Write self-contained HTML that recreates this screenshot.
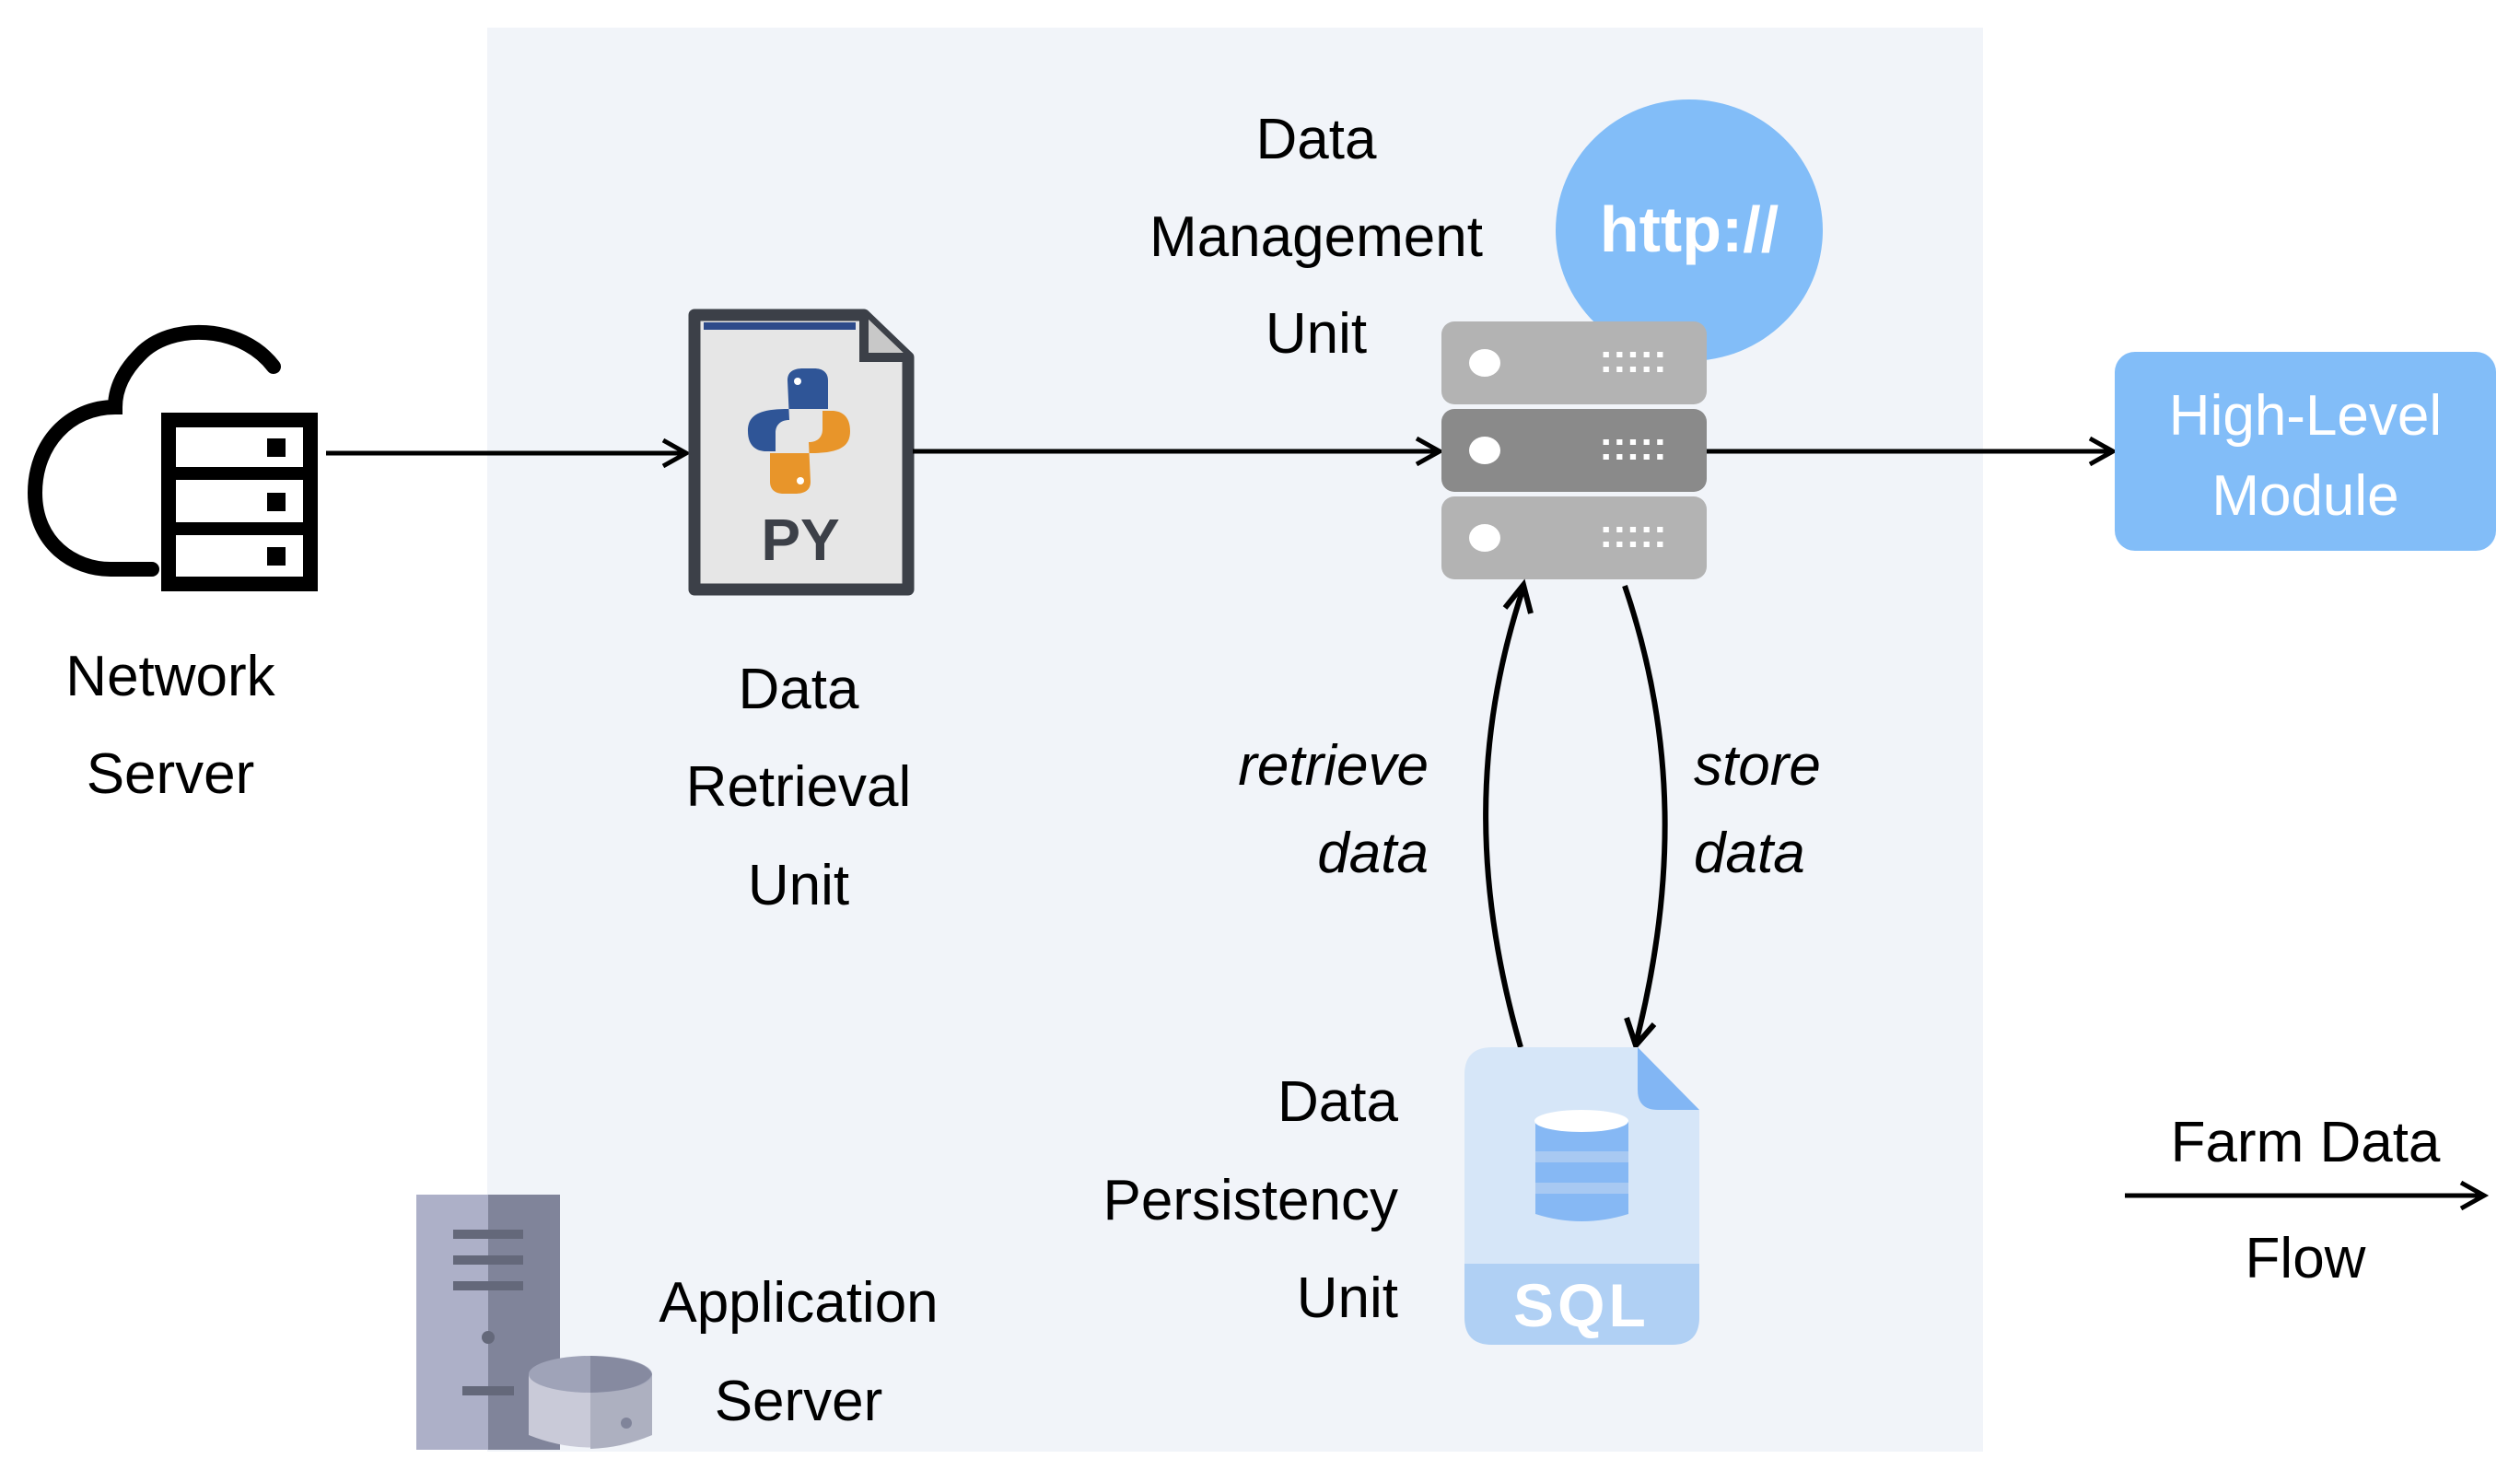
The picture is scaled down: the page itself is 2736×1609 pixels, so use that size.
<!DOCTYPE html>
<html><head><meta charset="utf-8"><style>
html,body{margin:0;padding:0;background:#fff}
svg{display:block}
text{font-family:"Liberation Sans",sans-serif;font-size:62px;fill:#000}
.it{font-style:italic}
</style></head><body>
<svg width="2736" height="1609" viewBox="0 0 2736 1609" xmlns="http://www.w3.org/2000/svg">
<rect x="529" y="30" width="1624" height="1546" fill="#f1f4f9"/>

<!-- cloud icon -->
<path d="M297 398 C262 352 185 350 152 385 C132 405 125 425 125 442 C75 442 38 482 38 535 C38 590 80 618 120 618 L165 618" fill="none" stroke="#000" stroke-width="16" stroke-linecap="round"/>
<rect x="183" y="456" width="154" height="178" fill="none" stroke="#000" stroke-width="16"/>
<line x1="183" y1="514" x2="337" y2="514" stroke="#000" stroke-width="14"/>
<line x1="183" y1="574" x2="337" y2="574" stroke="#000" stroke-width="14"/>
<rect x="290" y="476" width="20" height="20" fill="#000"/>
<rect x="290" y="535" width="20" height="20" fill="#000"/>
<rect x="290" y="594" width="20" height="20" fill="#000"/>
<text x="185" y="755" text-anchor="middle">Network</text>
<text x="185" y="861" text-anchor="middle">Server</text>

<!-- arrow 1 -->
<line x1="354" y1="492" x2="745" y2="492" stroke="#000" stroke-width="5"/>
<path d="M720 478 L745 492 L720 506" fill="none" stroke="#000" stroke-width="5"/>

<!-- PY file -->
<path d="M754 342 L938 342 L986 388 L986 640 L754 640 Z" fill="#e6e6e6" stroke="#3c4048" stroke-width="13" stroke-linejoin="round"/>
<rect x="764" y="350" width="165" height="8" fill="#2d4a8a"/>
<path d="M938 342 L938 388 L986 388" fill="#c8c8c8" stroke="#3c4048" stroke-width="10"/>
<path d="M855 413 C855 404 861 400 872 400 L884 400 C894 400 899 405 899 413 L899 444 L855 444 C822 444 812 452 812 468 C812 485 822 490 832 490 L842 490 L842 470 C842 461 848 456 857 456 Z" fill="#2f5597"/>
<path d="M880 523 C880 532 874 536 863 536 L851 536 C841 536 836 531 836 523 L836 492 L880 492 C913 492 923 484 923 468 C923 451 913 446 903 446 L893 446 L893 466 C893 475 887 480 878 480 Z" fill="#e8952a"/>
<circle cx="866" cy="414" r="4" fill="#fff"/><circle cx="869" cy="522" r="4" fill="#fff"/>
<text x="869" y="608" text-anchor="middle" style="font-weight:bold;font-size:64px;fill:#3c4048">PY</text>
<text x="867" y="769" text-anchor="middle">Data</text>
<text x="867" y="875" text-anchor="middle">Retrieval</text>
<text x="867" y="982" text-anchor="middle">Unit</text>

<!-- arrow 2 -->
<line x1="991" y1="490" x2="1563" y2="490" stroke="#000" stroke-width="5"/>
<path d="M1538 476 L1563 490 L1538 504" fill="none" stroke="#000" stroke-width="5"/>

<!-- http circle -->
<ellipse cx="1834" cy="250" rx="145" ry="142" fill="#82bdf8"/>
<text x="1834" y="273" text-anchor="middle" style="font-weight:bold;font-size:70px;fill:#fff">http://</text>

<!-- server stack -->
<rect x="1565" y="349" width="288" height="90" rx="14" fill="#b3b3b3"/>
<rect x="1565" y="444" width="288" height="90" rx="14" fill="#8a8a8a"/>
<rect x="1565" y="539" width="288" height="90" rx="14" fill="#b3b3b3"/>
<g fill="#fff">
<ellipse cx="1612" cy="394" rx="17" ry="15"/><ellipse cx="1612" cy="489" rx="17" ry="15"/><ellipse cx="1612" cy="584" rx="17" ry="15"/>
<text x="1773" y="404" text-anchor="middle" style="font-size:44px;fill:#fff;font-weight:bold">:::::</text>
<text x="1773" y="499" text-anchor="middle" style="font-size:44px;fill:#fff;font-weight:bold">:::::</text>
<text x="1773" y="594" text-anchor="middle" style="font-size:44px;fill:#fff;font-weight:bold">:::::</text>
</g>
<text x="1429" y="172" text-anchor="middle">Data</text>
<text x="1429" y="278" text-anchor="middle">Management</text>
<text x="1429" y="383" text-anchor="middle">Unit</text>

<!-- arrow 3 -->
<line x1="1853" y1="490" x2="2294" y2="490" stroke="#000" stroke-width="5"/>
<path d="M2269 476 L2294 490 L2269 504" fill="none" stroke="#000" stroke-width="5"/>

<!-- High-level box -->
<rect x="2296" y="382" width="414" height="216" rx="22" fill="#82bdf8"/>
<text x="2503" y="472" text-anchor="middle" style="fill:#fff">High-Level</text>
<text x="2503" y="559" text-anchor="middle" style="fill:#fff">Module</text>

<!-- curved arrows -->
<path d="M1651 1137 C1600 960 1600 800 1654 638" fill="none" stroke="#000" stroke-width="6"/>
<path d="M1634 660 L1654 635 L1662 666" fill="none" stroke="#000" stroke-width="6"/>
<path d="M1764 636 C1820 800 1820 960 1776 1133" fill="none" stroke="#000" stroke-width="6"/>
<path d="M1766 1105 L1776 1135 L1796 1112" fill="none" stroke="#000" stroke-width="6"/>
<text x="1551" y="852" text-anchor="end" class="it">retrieve</text>
<text x="1551" y="947" text-anchor="end" class="it">data</text>
<text x="1839" y="852" class="it">store</text>
<text x="1839" y="947" class="it">data</text>

<!-- SQL doc -->
<path d="M1620 1137 L1778 1137 L1845 1205 L1845 1430 Q1845 1460 1815 1460 L1620 1460 Q1590 1460 1590 1430 L1590 1167 Q1590 1137 1620 1137 Z" fill="#d6e6f8"/>
<path d="M1590 1372 L1845 1372 L1845 1430 Q1845 1460 1815 1460 L1620 1460 Q1590 1460 1590 1430 Z" fill="#b0d0f4"/>
<path d="M1778 1137 L1845 1205 L1800 1205 Q1778 1205 1778 1183 Z" fill="#82b6f4"/>
<path d="M1667 1217 L1667 1318 Q1717 1334 1768 1318 L1768 1217 Z" fill="#86b8f4"/>
<rect x="1667" y="1250" width="101" height="12" fill="#a8c9f2"/>
<rect x="1667" y="1284" width="101" height="12" fill="#a8c9f2"/>
<ellipse cx="1717" cy="1217" rx="51" ry="12" fill="#fff"/>
<text x="1717" y="1440" text-anchor="middle" style="font-weight:bold;font-size:66px;fill:#fff;letter-spacing:4px">SQL</text>
<text x="1518" y="1217" text-anchor="end">Data</text>
<text x="1518" y="1324" text-anchor="end">Persistency</text>
<text x="1518" y="1430" text-anchor="end">Unit</text>

<!-- app server -->
<rect x="452" y="1297" width="78" height="277" fill="#adb0c8"/>
<rect x="530" y="1297" width="78" height="277" fill="#80849a"/>
<rect x="492" y="1335" width="76" height="10" fill="#64687a"/>
<rect x="492" y="1363" width="76" height="10" fill="#64687a"/>
<rect x="492" y="1391" width="76" height="10" fill="#64687a"/>
<circle cx="530" cy="1452" r="7" fill="#64687a"/>
<rect x="502" y="1505" width="56" height="10" fill="#64687a"/>
<path d="M574 1492 L574 1558 Q641 1585 708 1558 L708 1492 Z" fill="#c9cad8"/>
<path d="M641 1492 L708 1492 L708 1558 Q675 1572 641 1573 Z" fill="#adb0c0"/>
<ellipse cx="641" cy="1492" rx="67" ry="20" fill="#9fa3b8"/>
<path d="M641 1472 Q700 1474 708 1492 Q700 1510 641 1512 Z" fill="#868aa0"/>
<circle cx="680" cy="1545" r="6" fill="#80849a"/>
<text x="867" y="1435" text-anchor="middle">Application</text>
<text x="867" y="1542" text-anchor="middle">Server</text>

<!-- legend -->
<text x="2503" y="1261" text-anchor="middle">Farm Data</text>
<line x1="2307" y1="1298" x2="2697" y2="1298" stroke="#000" stroke-width="5"/>
<path d="M2672 1284 L2697 1298 L2672 1312" fill="none" stroke="#000" stroke-width="5"/>
<text x="2503" y="1387" text-anchor="middle">Flow</text>
</svg>
</body></html>
